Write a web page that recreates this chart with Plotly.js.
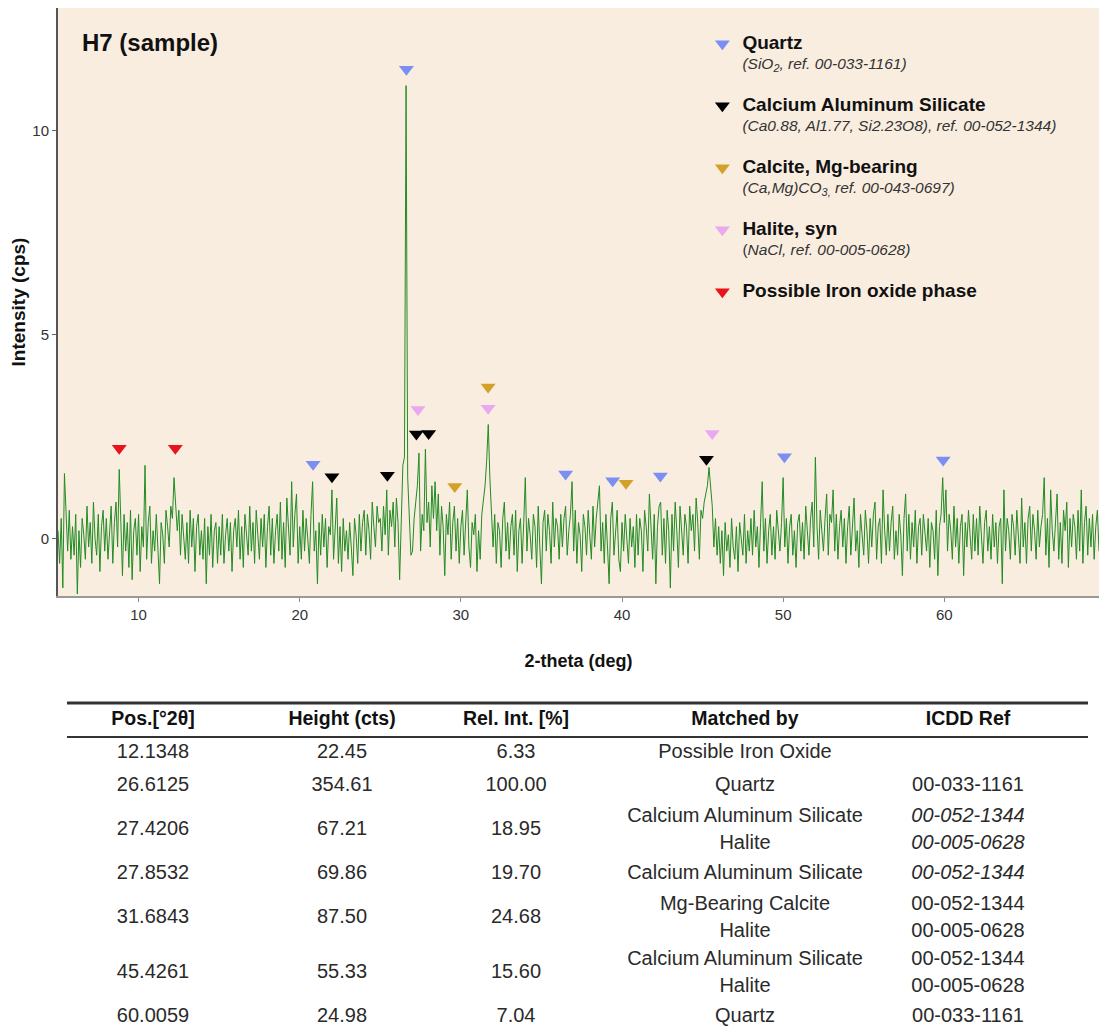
<!DOCTYPE html>
<html>
<head>
<meta charset="utf-8">
<script src="https://cdn.plot.ly/plotly-3.0.1.min.js"></script>
<style>html,body{margin:0;padding:0;background:#fff;}#chart{width:1099px;height:1028px;}</style>
</head>
<body>
<div id="chart"></div>
<script>
// ---- Diffractogram (2-theta grid: start 5.0 deg, step 0.1 deg) ----
const thetaStart = 5.0;
const thetaStep = 0.1;
const int05to15 = [0.2,-0.6,0.5,-1.2,1.6,0.4,-0.3,0.7,-0.5,0.3,
  -0.4,0.6,-1.35,0.2,-0.7,0.5,0.1,-0.5,0.8,-0.2,
  0.4,-0.6,0.9,0.0,-0.4,0.6,-0.8,0.3,0.7,-0.3,
  0.5,-0.5,0.2,0.8,-0.6,0.4,0.9,-0.2,1.7,0.1,
  -0.9,0.6,-0.3,0.4,-0.7,0.7,-1.0,0.2,0.5,-0.4,
  0.6,-0.8,0.3,-0.2,1.8,-0.5,0.4,0.8,-0.6,0.2,
  -0.3,0.6,-0.5,-1.1,0.4,0.1,-0.6,0.7,0.3,-0.2,
  0.8,0.5,1.5,0.9,0.2,0.7,-0.4,0.6,0.1,-0.5,
  0.4,-0.6,0.7,-0.2,0.5,-0.8,0.3,0.6,-0.4,0.2,
  -0.5,0.5,-1.1,0.3,-0.4,0.6,-0.7,0.2,0.4,-0.6];
const int15to25 = [0.3,-0.4,0.6,-0.6,0.1,0.5,-0.3,0.4,-0.8,0.2,
  0.5,-0.2,0.7,-0.5,0.3,-0.7,0.6,0.0,-0.4,0.8,
  -0.3,0.4,-0.6,0.7,0.1,-0.5,0.5,-0.2,0.6,-0.7,
  0.3,0.8,-0.4,0.5,-0.6,0.2,0.6,-0.3,0.9,-0.5,
  0.4,-0.7,1.0,0.2,-0.4,1.4,-0.2,0.6,1.1,-0.6,
  0.3,-0.5,0.7,-0.3,0.5,0.0,-0.6,0.6,1.4,-0.3,
  0.2,-1.1,0.4,-0.4,0.6,-0.2,0.5,-0.7,0.3,0.1,
  1.2,-0.5,0.4,1.0,-0.6,0.3,-0.8,0.5,-0.3,0.2,
  -0.5,0.4,-0.2,-0.9,0.5,0.1,-0.6,0.6,-0.3,0.4,
  0.7,-0.4,0.6,0.2,-0.5,0.9,0.3,-0.2,0.8,0.4];
const int25to35 = [0.5,-0.3,0.8,0.1,1.2,-0.4,0.7,0.3,0.9,-0.2,
  1.0,0.4,-1.0,0.8,1.8,2.0,11.1,1.5,0.6,-0.4,
  -0.3,0.5,0.9,1.3,2.1,-0.3,0.6,0.2,2.2,0.4,
  0.9,-0.2,1.3,0.5,1.4,0.2,1.1,-0.4,0.8,0.3,
  -0.9,0.6,0.1,0.9,-0.5,0.4,0.8,-0.3,0.5,-0.6,
  0.3,0.7,-0.4,0.5,1.2,-0.2,-0.7,0.4,0.1,0.6,
  -0.8,0.2,-0.5,0.6,0.9,1.3,1.9,2.8,1.5,0.7,
  -0.2,0.6,-0.6,0.4,0.2,-0.7,0.5,0.9,-0.3,0.4,
  -0.5,0.3,0.6,-0.4,0.7,-0.8,0.2,0.5,-0.6,0.4,
  1.5,-0.3,0.5,0.1,-0.5,0.6,0.3,-0.7,0.8,-0.2];
const int35to45 = [-1.1,0.4,0.7,-0.3,0.6,0.2,-0.6,0.9,-0.2,0.5,
  0.3,-0.5,0.6,-0.2,0.5,0.8,-0.4,0.2,0.6,1.4,
  -0.3,0.7,-0.6,0.4,0.1,-0.8,0.6,0.3,-0.4,0.7,
  0.2,-0.5,0.8,-0.2,0.5,0.9,1.3,-0.3,0.4,-0.6,
  0.6,-0.2,-1.1,0.5,0.9,-0.4,0.3,0.7,-0.5,-0.8,
  0.4,-0.3,0.6,0.1,-0.6,0.5,-0.2,0.3,-0.7,0.6,
  -0.4,0.5,0.2,-0.8,0.7,0.3,-0.3,1.1,0.4,-0.5,
  0.6,-1.1,0.3,0.8,0.9,-0.4,0.5,-0.6,0.7,0.2,
  -1.2,0.6,-0.3,0.9,0.2,-0.7,0.8,0.1,-0.4,0.6,
  0.3,-0.6,0.8,0.2,0.6,-0.3,1.0,0.4,-0.5,0.7];
const int45to55 = [0.5,0.9,1.1,1.3,1.75,1.2,0.8,-0.2,0.5,-0.4,
  0.3,-0.6,0.2,-0.9,0.4,-0.3,0.1,-0.7,0.5,-0.2,
  -0.5,0.3,-0.8,0.4,0.0,-0.4,0.6,-0.6,0.2,-0.3,
  0.5,-0.4,0.7,-0.2,0.3,-0.7,0.4,1.4,-0.3,0.5,
  -0.6,0.2,0.6,-0.4,0.3,-0.5,0.7,0.1,-0.3,0.4,
  1.5,-0.2,0.5,-0.6,0.3,0.6,-0.4,0.2,-0.7,0.4,
  0.6,-0.3,0.4,-0.5,0.8,0.2,-0.4,0.5,0.9,-0.2,
  2.0,0.3,-0.5,0.7,0.1,-0.3,0.5,1.1,-0.4,0.6,
  0.4,1.2,-0.3,0.6,-0.5,0.3,0.7,-0.2,0.5,-0.6,
  0.3,0.8,-0.4,0.5,1.0,-0.3,0.2,-0.7,0.6,0.1];
const int55to65 = [-0.4,0.7,0.2,-0.6,0.5,-0.2,0.6,0.9,-0.5,0.3,
  0.5,-0.6,1.2,0.2,-0.4,0.6,-0.3,0.4,0.8,-0.5,
  0.2,-0.4,0.6,0.1,-0.9,0.5,1.1,-0.3,0.6,-0.5,
  0.4,-0.2,0.7,-0.6,0.3,0.5,-0.4,0.6,0.1,-0.3,
  0.5,-0.7,0.4,0.2,-0.5,0.7,-0.9,0.3,0.6,1.5,
  0.4,1.2,-0.3,0.6,0.2,-0.5,0.8,-0.2,0.5,-0.6,
  0.3,0.6,-0.9,0.4,-0.2,0.7,0.1,-0.5,0.6,-0.3,
  0.5,-0.4,0.8,0.2,-0.6,0.4,0.7,-0.3,0.3,-0.5,
  0.6,-0.2,0.4,-0.6,0.3,0.5,-1.1,1.2,-0.3,0.5,
  0.2,-0.5,0.6,0.3,-0.4,0.7,0.1,-0.6,1.0,-0.2];
const int65to70 = [0.4,-0.6,0.5,0.8,-0.3,0.6,0.2,-0.5,0.7,-0.2,
  0.3,0.6,1.5,-0.4,0.5,-0.7,1.2,0.2,-0.3,0.6,
  1.1,-0.5,0.4,-0.6,0.7,0.2,0.9,-0.7,0.5,-0.2,
  0.6,0.3,-0.5,0.7,-0.3,1.2,-0.6,0.4,0.8,-0.4,
  0.5,-0.2,0.6,-0.5,0.3,0.7,-0.3];

// ---- Phase markers (2-theta, intensity) ----
const quartzX = [20.83, 26.62, 36.5, 39.42, 42.38, 50.08, 59.93];
const quartzY = [1.83, 11.5, 1.59, 1.42, 1.54, 2.01, 1.93];
const casX = [22.0, 25.44, 27.24, 28.0, 45.24];
const casY = [1.52, 1.56, 2.57, 2.58, 1.95];
const calciteX = [29.62, 31.69, 40.25];
const calciteY = [1.28, 3.72, 1.36];
const haliteX = [27.34, 31.69, 45.6];
const haliteY = [3.17, 3.2, 2.58];
const ironX = [8.8, 12.28];
const ironY = [2.22, 2.22];

// ---- Peak table ----
const tableHeaders = ['Pos.[°2θ]', 'Height (cts)', 'Rel. Int. [%]', 'Matched by', 'ICDD Ref'];
const tablePos = ['12.1348','26.6125','27.4206','27.8532','31.6843','45.4261','60.0059'];
const tableHeight = ['22.45','354.61','67.21','69.86','87.50','55.33','24.98'];
const tableRelInt = ['6.33','100.00','18.95','19.70','24.68','15.60','7.04'];
const tableMatched = ['Possible Iron Oxide','Quartz','Calcium Aluminum Silicate<br>Halite','Calcium Aluminum Silicate','Mg-Bearing Calcite<br>Halite','Calcium Aluminum Silicate<br>Halite','Quartz'];
const tableICDD = ['','00-033-1161','<i>00-052-1344</i><br><i>00-005-0628</i>','<i>00-052-1344</i>','00-052-1344<br>00-005-0628','00-052-1344<br>00-005-0628','00-033-1161'];

// ---- layout constants for the table (pixel units of the table's own axes) ----
const colWidths = [172, 206, 142, 316, 130];
const tableLeft = 67, tableRight = 1088;
const topRule = 3, headerRule = 37, singleRow = 33, lineGap = 27, extraPerLine = 22;

const intensity = [].concat(int05to15, int15to25, int25to35, int35to45, int45to55, int55to65, int65to70);
const twoTheta = intensity.map((_, i) => +(thetaStart + i * thetaStep).toFixed(2));

const FONT = 'Liberation Sans, Arial, Helvetica, sans-serif';
const main = (t) => '<span style="font-size:19px"><b>' + t + '</b></span>';
const sub = (t) => '<span style="font-size:15.5px;color:#333">' + t + '</span>';

function phase(name, xs, ys, color, group) {
  return {
    type: 'scatter', mode: 'markers', x: xs, y: ys, name: name,
    legendgroup: group, cliponaxis: false,
    marker: {symbol: 'triangle-down', size: 13, color: color, line: {width: 0}},
    hoverinfo: 'x+y+name'
  };
}

// column centres from widths
const colCenters = [];
{ let acc = tableLeft; colWidths.forEach(w => { colCenters.push(acc + w / 2); acc += w; }); }
const columns = [tablePos, tableHeight, tableRelInt, tableMatched, tableICDD];
// row centres from number of lines in each row
const rowLines = tablePos.map((_, r) => Math.max(...columns.map(c => c[r].split('<br>').length)));
const rowCenters = [];
{ let acc = headerRule; rowLines.forEach(n => { const h = singleRow + (n - 1) * extraPerLine; rowCenters.push(acc + h / 2); acc += h; }); }
const cellX = [], cellY = [], cellT = [];
columns.forEach((col, c) => col.forEach((txt, r) => {
  const parts = txt.split('<br>');
  parts.forEach((p, j) => {
    if (!p) return;
    cellX.push(colCenters[c]);
    cellY.push(rowCenters[r] + (j - (parts.length - 1) / 2) * lineGap);
    cellT.push(p);
  });
}));

const traces = [
  {type: 'scatter', mode: 'lines', x: twoTheta, y: intensity, showlegend: false,
   line: {color: 'rgb(34,139,34)', width: 1}, name: 'H7'},
  phase(main('Quartz') + '<br>' + sub('<i>(SiO<sub>2</sub>, ref. 00-033-1161)</i>'), quartzX, quartzY, '#7b8ef2', 'q'),
  phase(main('Calcium Aluminum Silicate') + '<br>' + sub('<i>(Ca0.88, Al1.77, Si2.23O8), ref. 00-052-1344)</i>'), casX, casY, '#000000', 'c'),
  phase(main('Calcite, Mg-bearing') + '<br>' + sub('<i>(Ca,Mg)CO<sub>3,</sub> ref. 00-043-0697)</i>'), calciteX, calciteY, '#d3a02a', 'm'),
  phase(main('Halite, syn') + '<br>' + sub('(<i>NaCl, ref. 00-005-0628)</i>'), haliteX, haliteY, '#eaa8f0', 'h'),
  phase(main('Possible Iron oxide phase'), ironX, ironY, '#e8141c', 'f'),
  {type: 'scatter', mode: 'text', xaxis: 'x2', yaxis: 'y2', showlegend: false, hoverinfo: 'skip',
   x: colCenters, y: colCenters.map(() => (topRule + headerRule) / 2),
   text: tableHeaders.map(t => '<b>' + t + '</b>'), textposition: 'middle center', cliponaxis: false,
   textfont: {family: FONT, size: 19.5, color: '#111'}},
  {type: 'scatter', mode: 'text', xaxis: 'x2', yaxis: 'y2', showlegend: false, hoverinfo: 'skip',
   x: cellX, y: cellY, text: cellT, textposition: 'middle center', cliponaxis: false,
   textfont: {family: FONT, size: 20, color: '#2a2a2a'}}
];

const layout = {
  width: 1099, height: 1028,
  margin: {l: 58, r: 0, t: 8, b: 0},
  paper_bgcolor: '#ffffff',
  plot_bgcolor: 'rgba(0,0,0,0)',
  font: {family: FONT, color: '#222'},
  showlegend: true,
  legend: {
    x: 0.619, y: 0.981, xanchor: 'left', yanchor: 'top',
    bgcolor: 'rgba(0,0,0,0)', borderwidth: 0,
    font: {family: FONT, size: 15, color: '#111'},
    tracegroupgap: 20, valign: 'top', itemsizing: 'trace'
  },
  xaxis: {
    domain: [0, 1], range: [5, 69.6],
    tickvals: [10, 20, 30, 40, 50, 60],
    ticks: 'outside', ticklen: 4, tickcolor: '#888',
    showline: true, linecolor: '#999', linewidth: 2,
    showgrid: false, zeroline: false,
    tickfont: {family: FONT, size: 15, color: '#333'},
    title: {text: '<b>2-theta (deg)</b>', font: {family: FONT, size: 18, color: '#111'}, standoff: 32}
  },
  yaxis: {
    domain: [0.4235, 1], range: [-1.4, 13],
    tickvals: [0, 5, 10],
    ticks: 'outside', ticklen: 4, tickcolor: '#666',
    showline: true, linecolor: '#555', linewidth: 2,
    showgrid: false, zeroline: false,
    tickfont: {family: FONT, size: 15, color: '#333'},
    title: {text: '<b>Intensity (cps)</b>', font: {family: FONT, size: 19, color: '#111'}, standoff: 2}
  },
  xaxis2: {domain: [0, 1], range: [58, 1099], visible: false, fixedrange: true, anchor: 'y2'},
  yaxis2: {domain: [0, 0.3216], range: [328, 0], visible: false, fixedrange: true, anchor: 'x2'},
  annotations: [{
    xref: 'paper', yref: 'paper', x: 0.021, y: 0.9657, xanchor: 'left', yanchor: 'middle',
    text: '<b>H7 (sample)</b>', showarrow: false, font: {family: FONT, size: 24, color: '#111'}
  }],
  shapes: [
    {type: 'rect', xref: 'x domain', yref: 'y domain', x0: 0, x1: 1, y0: 0, y1: 1, layer: 'below',
     fillcolor: 'rgb(249,237,224)', line: {width: 0}},
    {type: 'line', xref: 'x2', yref: 'y2', x0: tableLeft, x1: tableRight, y0: topRule, y1: topRule, line: {color: '#333', width: 3}},
    {type: 'line', xref: 'x2', yref: 'y2', x0: tableLeft, x1: tableRight, y0: headerRule, y1: headerRule, line: {color: '#333', width: 2}}
  ]
};

Plotly.newPlot('chart', traces, layout, {displayModeBar: false, responsive: false});
</script>
</body>
</html>
